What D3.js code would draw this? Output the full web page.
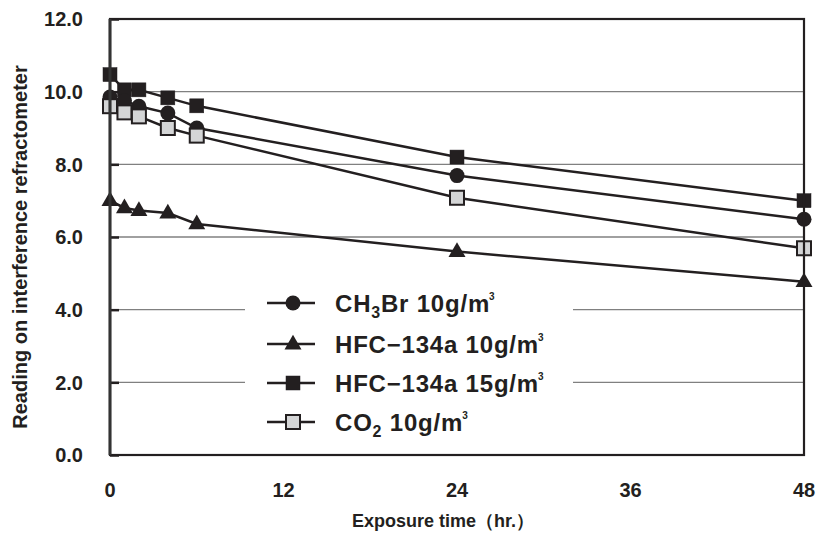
<!DOCTYPE html>
<html>
<head>
  <meta charset="utf-8">
  <title>Interference refractometer reading vs exposure time</title>
  <script src="https://cdn.jsdelivr.net/npm/d3@7"></script>
  <style>
    body { margin: 0; background: #fff; }
    svg text { font-family: "Liberation Sans", Arial, sans-serif; fill: #231f20; }
  </style>
</head>
<body>
<svg id="chart" width="818" height="535"></svg>
<script>
  // data
  var hours = [0, 1, 2, 4, 6, 24, 48];
  var ch3br = [9.85, 9.75, 9.6, 9.41, 9.0, 7.69, 6.49];
  var hfc10 = [7.0, 6.8, 6.73, 6.66, 6.36, 5.6, 4.77];
  var hfc15 = [10.47, 10.05, 10.05, 9.83, 9.61, 8.2, 7.0];
  var co2 = [9.6, 9.43, 9.32, 9.0, 8.79, 7.08, 5.69];

  var xTicks = [0, 12, 24, 36, 48];
  var yTicks = [0, 2, 4, 6, 8, 10, 12];

  (function() {
    var ink = '#231f20';
    var grayFill = '#d4d5d6';

    var series = [
      {values: hfc15, marker: 'square', fill: ink},
      {values: ch3br, marker: 'circle', fill: ink},
      {values: co2, marker: 'square', fill: grayFill},
      {values: hfc10, marker: 'triangle', fill: ink}
    ];

    var svg = d3.select('#chart');
    var plotLeft = 110, plotRight = 804, plotTop = 19, plotBottom = 455;

    var x = d3.scaleLinear().domain([0, 48]).range([plotLeft, plotRight]);
    var y = d3.scaleLinear().domain([0, 12]).range([plotBottom, plotTop]);

    // grid lines
    svg.append('g').selectAll('line')
      .data(yTicks.filter(function(d) { return d > 0 && d < 12; }))
      .enter().append('line')
        .attr('x1', plotLeft).attr('x2', plotRight)
        .attr('y1', function(d) { return y(d); })
        .attr('y2', function(d) { return y(d); })
        .attr('stroke', '#808080')
        .attr('stroke-width', 1.3);

    // inward tick marks on left axis
    var yAxis = d3.axisRight(y).tickValues(yTicks).tickSize(9).tickFormat('');
    svg.append('g')
      .attr('transform', 'translate(' + plotLeft + ',0)')
      .call(yAxis)
      .call(function(g) {
        g.select('.domain').remove();
        g.selectAll('line').attr('stroke', ink).attr('stroke-width', 2.5);
      });

    // y tick labels
    svg.append('g').selectAll('text')
      .data(yTicks)
      .enter().append('text')
        .attr('x', 83)
        .attr('y', function(d) { return y(d); })
        .attr('dy', '0.36em')
        .attr('text-anchor', 'end')
        .attr('font-size', 20)
        .attr('font-weight', 'bold')
        .text(function(d) { return d.toFixed(1); });

    // x tick labels
    svg.append('g').selectAll('text')
      .data(xTicks)
      .enter().append('text')
        .attr('x', function(d) { return x(d); })
        .attr('y', 490)
        .attr('dy', '0.36em')
        .attr('text-anchor', 'middle')
        .attr('font-size', 20)
        .attr('font-weight', 'bold')
        .text(function(d) { return d; });

    // axis titles
    svg.append('text')
      .attr('x', 443).attr('y', 521)
      .attr('dy', '0.36em')
      .attr('text-anchor', 'middle')
      .attr('font-size', 18)
      .attr('font-weight', 'bold')
      .text('Exposure time（hr.）');

    svg.append('text')
      .attr('transform', 'translate(20,247) rotate(-90)')
      .attr('dy', '0.36em')
      .attr('text-anchor', 'middle')
      .attr('font-size', 20)
      .attr('font-weight', 'bold')
      .text('Reading on interference refractometer');

    // legend background cuts the grid lines
    var legendX = 267, legendRows = [303, 344, 383, 422];
    svg.append('rect')
      .attr('x', 245).attr('y', 283)
      .attr('width', 328).attr('height', 158)
      .attr('fill', '#fff');

    var drawMarker = function(g, kind, fill, cx, cy) {
      if (kind === 'circle') {
        g.append('circle').attr('cx', cx).attr('cy', cy).attr('r', 7.5).attr('fill', fill);
      } else if (kind === 'triangle') {
        g.append('path')
          .attr('d', d3.symbol().type(d3.symbolTriangle).size(125)())
          .attr('transform', 'translate(' + cx + ',' + (cy + 0.5) + ')')
          .attr('fill', fill);
      } else {
        g.append('rect')
          .attr('x', cx - 7).attr('y', cy - 7)
          .attr('width', 14).attr('height', 14)
          .attr('fill', fill)
          .attr('stroke', ink).attr('stroke-width', fill === ink ? 0.5 : 2);
      }
    };

    // series lines
    var line = d3.line()
      .x(function(d, i) { return x(hours[i]); })
      .y(function(d) { return y(d); });

    svg.append('g').selectAll('path')
      .data(series)
      .enter().append('path')
        .attr('d', function(s) { return line(s.values); })
        .attr('fill', 'none')
        .attr('stroke', ink)
        .attr('stroke-width', 2.5);

    // markers
    var marks = svg.append('g');
    series.forEach(function(s) {
      s.values.forEach(function(v, i) {
        drawMarker(marks, s.marker, s.fill, x(hours[i]), y(v));
      });
    });

    // frame
    svg.append('rect')
      .attr('x', plotLeft).attr('y', plotTop)
      .attr('width', plotRight - plotLeft).attr('height', plotBottom - plotTop)
      .attr('fill', 'none')
      .attr('stroke', ink)
      .attr('stroke-width', 2.2);
    svg.append('line')
      .attr('x1', plotLeft).attr('x2', plotLeft)
      .attr('y1', plotTop).attr('y2', plotBottom)
      .attr('stroke', '#333').attr('stroke-width', 3);

    // legend
    var legendItems = [
      {marker: 'circle', fill: ink, label: ['CH', '3', 'Br 10g/m']},
      {marker: 'triangle', fill: ink, label: ['HFC−134a 10g/m']},
      {marker: 'square', fill: ink, label: ['HFC−134a 15g/m']},
      {marker: 'square', fill: grayFill, label: ['CO', '2', ' 10g/m']}
    ];
    var legend = svg.append('g');
    legendItems.forEach(function(item, i) {
      var ly = legendRows[i];
      legend.append('line')
        .attr('x1', legendX).attr('x2', legendX + 48)
        .attr('y1', ly).attr('y2', ly)
        .attr('stroke', ink).attr('stroke-width', 2.5);
      drawMarker(legend, item.marker, item.fill, legendX + 26, ly);
      var t = legend.append('text')
        .attr('x', 335).attr('y', ly)
        .attr('dy', '0.36em')
        .attr('font-size', 24)
        .attr('letter-spacing', 0.8)
        .attr('font-weight', 'bold');
      item.label.forEach(function(part, j) {
        var ts = t.append('tspan').text(part);
        if (item.label.length > 1 && j === 1) {
          ts.attr('font-size', 16).attr('dy', 6);
        } else if (item.label.length > 1 && j === 2) {
          ts.attr('dy', -6);
        }
      });
      t.append('tspan').text('3').attr('font-size', 10).attr('dx', -1).attr('dy', -12);
    });
  })();
</script>
</body>
</html>
